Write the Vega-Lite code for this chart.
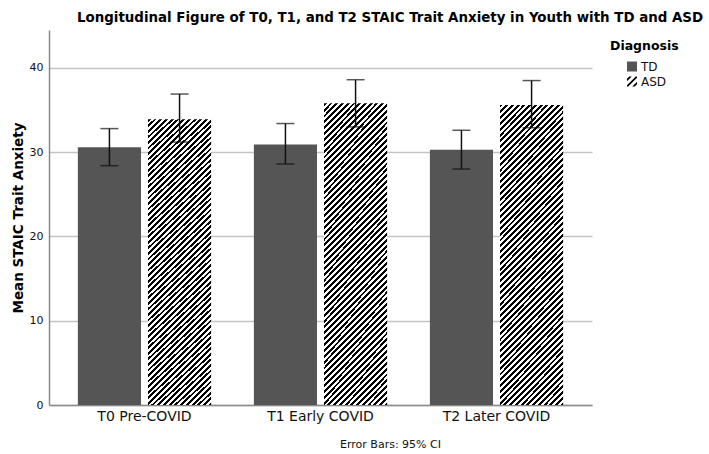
{
  "$schema": "https://vega.github.io/schema/vega-lite/v6.json",
  "width": 543,
  "height": 375,
  "autosize": "none",
  "padding": {"left": 49, "top": 30, "right": 117, "bottom": 49},
  "background": "white",
  "title": {
    "text": "Longitudinal Figure of T0, T1, and T2 STAIC Trait Anxiety in Youth with TD and ASD",
    "anchor": "start", "frame": "group", "dx": 28, "offset": 10, "dy": 15,
    "baseline": "alphabetic",
    "font": "DejaVu Sans", "fontSize": 13.4, "fontWeight": "bold", "color": "#000"
  },
  "config": {
    "view": {"stroke": null},
    "font": "DejaVu Sans",
    "legend": {
      "padding": 0, "titleFontSize": 12.5, "titleFontWeight": "bold", "titleColor": "#000",
      "titlePadding": 8, "labelFontSize": 12, "labelColor": "#111", "labelOffset": 3,
      "symbolSize": 100, "symbolOffset": 16, "symbolStrokeWidth": 0, "symbolOpacity": 1, "rowPadding": 3
    }
  },
  "data": {
    "values": [
      {"time": "T0 Pre-COVID", "Diagnosis": "TD", "mean": 30.6, "lo": 28.4, "hi": 32.8},
      {"time": "T0 Pre-COVID", "Diagnosis": "ASD", "mean": 33.9, "lo": 31.2, "hi": 36.9},
      {"time": "T1 Early COVID", "Diagnosis": "TD", "mean": 30.9, "lo": 28.6, "hi": 33.4},
      {"time": "T1 Early COVID", "Diagnosis": "ASD", "mean": 35.8, "lo": 33.0, "hi": 38.6},
      {"time": "T2 Later COVID", "Diagnosis": "TD", "mean": 30.3, "lo": 28.0, "hi": 32.6},
      {"time": "T2 Later COVID", "Diagnosis": "ASD", "mean": 35.6, "lo": 32.9, "hi": 38.5}
    ]
  },
  "encoding": {
    "x": {
      "field": "time", "type": "nominal",
      "sort": ["T0 Pre-COVID", "T1 Early COVID", "T2 Later COVID"],
      "scale": {"paddingInner": 0.243, "paddingOuter": 0.164},
      "axis": {
        "title": "Error Bars: 95% CI", "titleFontSize": 11, "titleFontWeight": "normal",
        "titleColor": "#111", "titleX": 341, "titleY": 42, "titleBaseline": "alphabetic",
        "labelFontSize": 14, "labelColor": "#111", "labelPadding": 4, "labelAngle": 0,
        "ticks": false, "tickSize": 0, "domainColor": "#8a8a8a", "domainWidth": 1.5, "grid": false
      }
    },
    "xOffset": {
      "field": "Diagnosis", "type": "nominal", "sort": ["TD", "ASD"],
      "scale": {"paddingInner": 0.1, "paddingOuter": 0}
    }
  },
  "layer": [
    {
      "mark": {"type": "point", "filled": true, "size": 30},
      "encoding": {
        "y": {
          "field": "lo", "type": "quantitative",
          "scale": {"domain": [0, 44.5], "nice": false, "zero": true},
          "axis": {
            "title": "Mean STAIC Trait Anxiety", "titleFontSize": 13.5, "titleFontWeight": "bold",
            "titleColor": "#000", "titlePadding": 4,
            "values": [0, 10, 20, 30, 40], "labelFontSize": 11, "labelColor": "#111",
            "labelPadding": 6, "ticks": false, "tickSize": 0,
            "domainColor": "#8a8a8a", "domainWidth": 1.5,
            "grid": true, "gridColor": "#c4c4c4", "gridWidth": 1.5
          }
        },
        "color": {
          "field": "Diagnosis", "type": "nominal",
          "scale": {"domain": ["TD", "ASD"], "range": ["#555555", "#000000"]},
          "legend": {"orient": "none", "legendX": 561, "legendY": 10, "title": "Diagnosis"}
        },
        "shape": {
          "field": "Diagnosis", "type": "nominal",
          "scale": {"domain": ["TD", "ASD"], "range": ["square", "M-1,-0.55L-0.55,-1L-0.05,-1L-1,-0.05Z M-1,0.75L0.75,-1L1,-1L1,-0.75L-0.75,1L-1,1Z M0.05,1L1,0.05L1,0.55L0.55,1Z"]},
          "legend": {"orient": "none", "legendX": 561, "legendY": 10, "title": "Diagnosis"}
        }
      }
    },
    {
      "mark": {"type": "bar", "strokeWidth": 0},
      "encoding": {
        "y": {
          "field": "mean", "type": "quantitative",
          "scale": {"domain": [0, 44.5], "nice": false, "zero": true},
          "axis": {
            "title": "Mean STAIC Trait Anxiety", "titleFontSize": 13.5, "titleFontWeight": "bold",
            "titleColor": "#000", "titlePadding": 4,
            "values": [0, 10, 20, 30, 40], "labelFontSize": 11, "labelColor": "#111",
            "labelPadding": 6, "ticks": false, "tickSize": 0,
            "domainColor": "#8a8a8a", "domainWidth": 1.5,
            "grid": true, "gridColor": "#c4c4c4", "gridWidth": 1.5
          }
        },
        "color": {
          "condition": {
            "test": "datum.Diagnosis === 'ASD'",
            "value": {"gradient": "linear", "x1": 0, "y1": 0, "x2": 0.248, "y2": 1.161, "stops": [
{"offset":0,"color":"#000"},{"offset":0.008,"color":"#000"},{"offset":0.008,"color":"#fff"},{"offset":0.016,"color":"#fff"},
{"offset":0.016,"color":"#000"},{"offset":0.024,"color":"#000"},{"offset":0.024,"color":"#fff"},{"offset":0.032,"color":"#fff"},
{"offset":0.032,"color":"#000"},{"offset":0.04,"color":"#000"},{"offset":0.04,"color":"#fff"},{"offset":0.048,"color":"#fff"},
{"offset":0.048,"color":"#000"},{"offset":0.056,"color":"#000"},{"offset":0.056,"color":"#fff"},{"offset":0.064,"color":"#fff"},
{"offset":0.064,"color":"#000"},{"offset":0.072,"color":"#000"},{"offset":0.072,"color":"#fff"},{"offset":0.08,"color":"#fff"},
{"offset":0.08,"color":"#000"},{"offset":0.088,"color":"#000"},{"offset":0.088,"color":"#fff"},{"offset":0.096,"color":"#fff"},
{"offset":0.096,"color":"#000"},{"offset":0.104,"color":"#000"},{"offset":0.104,"color":"#fff"},{"offset":0.112,"color":"#fff"},
{"offset":0.112,"color":"#000"},{"offset":0.12,"color":"#000"},{"offset":0.12,"color":"#fff"},{"offset":0.128,"color":"#fff"},
{"offset":0.128,"color":"#000"},{"offset":0.136,"color":"#000"},{"offset":0.136,"color":"#fff"},{"offset":0.144,"color":"#fff"},
{"offset":0.144,"color":"#000"},{"offset":0.152,"color":"#000"},{"offset":0.152,"color":"#fff"},{"offset":0.16,"color":"#fff"},
{"offset":0.16,"color":"#000"},{"offset":0.168,"color":"#000"},{"offset":0.168,"color":"#fff"},{"offset":0.176,"color":"#fff"},
{"offset":0.176,"color":"#000"},{"offset":0.184,"color":"#000"},{"offset":0.184,"color":"#fff"},{"offset":0.192,"color":"#fff"},
{"offset":0.192,"color":"#000"},{"offset":0.2,"color":"#000"},{"offset":0.2,"color":"#fff"},{"offset":0.208,"color":"#fff"},
{"offset":0.208,"color":"#000"},{"offset":0.216,"color":"#000"},{"offset":0.216,"color":"#fff"},{"offset":0.224,"color":"#fff"},
{"offset":0.224,"color":"#000"},{"offset":0.232,"color":"#000"},{"offset":0.232,"color":"#fff"},{"offset":0.24,"color":"#fff"},
{"offset":0.24,"color":"#000"},{"offset":0.248,"color":"#000"},{"offset":0.248,"color":"#fff"},{"offset":0.256,"color":"#fff"},
{"offset":0.256,"color":"#000"},{"offset":0.264,"color":"#000"},{"offset":0.264,"color":"#fff"},{"offset":0.272,"color":"#fff"},
{"offset":0.272,"color":"#000"},{"offset":0.28,"color":"#000"},{"offset":0.28,"color":"#fff"},{"offset":0.288,"color":"#fff"},
{"offset":0.288,"color":"#000"},{"offset":0.296,"color":"#000"},{"offset":0.296,"color":"#fff"},{"offset":0.304,"color":"#fff"},
{"offset":0.304,"color":"#000"},{"offset":0.312,"color":"#000"},{"offset":0.312,"color":"#fff"},{"offset":0.32,"color":"#fff"},
{"offset":0.32,"color":"#000"},{"offset":0.328,"color":"#000"},{"offset":0.328,"color":"#fff"},{"offset":0.336,"color":"#fff"},
{"offset":0.336,"color":"#000"},{"offset":0.344,"color":"#000"},{"offset":0.344,"color":"#fff"},{"offset":0.352,"color":"#fff"},
{"offset":0.352,"color":"#000"},{"offset":0.36,"color":"#000"},{"offset":0.36,"color":"#fff"},{"offset":0.368,"color":"#fff"},
{"offset":0.368,"color":"#000"},{"offset":0.376,"color":"#000"},{"offset":0.376,"color":"#fff"},{"offset":0.384,"color":"#fff"},
{"offset":0.384,"color":"#000"},{"offset":0.392,"color":"#000"},{"offset":0.392,"color":"#fff"},{"offset":0.4,"color":"#fff"},
{"offset":0.4,"color":"#000"},{"offset":0.408,"color":"#000"},{"offset":0.408,"color":"#fff"},{"offset":0.416,"color":"#fff"},
{"offset":0.416,"color":"#000"},{"offset":0.424,"color":"#000"},{"offset":0.424,"color":"#fff"},{"offset":0.432,"color":"#fff"},
{"offset":0.432,"color":"#000"},{"offset":0.44,"color":"#000"},{"offset":0.44,"color":"#fff"},{"offset":0.448,"color":"#fff"},
{"offset":0.448,"color":"#000"},{"offset":0.456,"color":"#000"},{"offset":0.456,"color":"#fff"},{"offset":0.464,"color":"#fff"},
{"offset":0.464,"color":"#000"},{"offset":0.472,"color":"#000"},{"offset":0.472,"color":"#fff"},{"offset":0.48,"color":"#fff"},
{"offset":0.48,"color":"#000"},{"offset":0.488,"color":"#000"},{"offset":0.488,"color":"#fff"},{"offset":0.496,"color":"#fff"},
{"offset":0.496,"color":"#000"},{"offset":0.504,"color":"#000"},{"offset":0.504,"color":"#fff"},{"offset":0.512,"color":"#fff"},
{"offset":0.512,"color":"#000"},{"offset":0.52,"color":"#000"},{"offset":0.52,"color":"#fff"},{"offset":0.528,"color":"#fff"},
{"offset":0.528,"color":"#000"},{"offset":0.536,"color":"#000"},{"offset":0.536,"color":"#fff"},{"offset":0.544,"color":"#fff"},
{"offset":0.544,"color":"#000"},{"offset":0.552,"color":"#000"},{"offset":0.552,"color":"#fff"},{"offset":0.56,"color":"#fff"},
{"offset":0.56,"color":"#000"},{"offset":0.568,"color":"#000"},{"offset":0.568,"color":"#fff"},{"offset":0.576,"color":"#fff"},
{"offset":0.576,"color":"#000"},{"offset":0.584,"color":"#000"},{"offset":0.584,"color":"#fff"},{"offset":0.592,"color":"#fff"},
{"offset":0.592,"color":"#000"},{"offset":0.6,"color":"#000"},{"offset":0.6,"color":"#fff"},{"offset":0.608,"color":"#fff"},
{"offset":0.608,"color":"#000"},{"offset":0.616,"color":"#000"},{"offset":0.616,"color":"#fff"},{"offset":0.624,"color":"#fff"},
{"offset":0.624,"color":"#000"},{"offset":0.632,"color":"#000"},{"offset":0.632,"color":"#fff"},{"offset":0.64,"color":"#fff"},
{"offset":0.64,"color":"#000"},{"offset":0.648,"color":"#000"},{"offset":0.648,"color":"#fff"},{"offset":0.656,"color":"#fff"},
{"offset":0.656,"color":"#000"},{"offset":0.664,"color":"#000"},{"offset":0.664,"color":"#fff"},{"offset":0.672,"color":"#fff"},
{"offset":0.672,"color":"#000"},{"offset":0.68,"color":"#000"},{"offset":0.68,"color":"#fff"},{"offset":0.688,"color":"#fff"},
{"offset":0.688,"color":"#000"},{"offset":0.696,"color":"#000"},{"offset":0.696,"color":"#fff"},{"offset":0.704,"color":"#fff"},
{"offset":0.704,"color":"#000"},{"offset":0.712,"color":"#000"},{"offset":0.712,"color":"#fff"},{"offset":0.72,"color":"#fff"},
{"offset":0.72,"color":"#000"},{"offset":0.728,"color":"#000"},{"offset":0.728,"color":"#fff"},{"offset":0.736,"color":"#fff"},
{"offset":0.736,"color":"#000"},{"offset":0.744,"color":"#000"},{"offset":0.744,"color":"#fff"},{"offset":0.752,"color":"#fff"},
{"offset":0.752,"color":"#000"},{"offset":0.76,"color":"#000"},{"offset":0.76,"color":"#fff"},{"offset":0.768,"color":"#fff"},
{"offset":0.768,"color":"#000"},{"offset":0.776,"color":"#000"},{"offset":0.776,"color":"#fff"},{"offset":0.784,"color":"#fff"},
{"offset":0.784,"color":"#000"},{"offset":0.792,"color":"#000"},{"offset":0.792,"color":"#fff"},{"offset":0.8,"color":"#fff"},
{"offset":0.8,"color":"#000"},{"offset":0.808,"color":"#000"},{"offset":0.808,"color":"#fff"},{"offset":0.816,"color":"#fff"},
{"offset":0.816,"color":"#000"},{"offset":0.824,"color":"#000"},{"offset":0.824,"color":"#fff"},{"offset":0.832,"color":"#fff"},
{"offset":0.832,"color":"#000"},{"offset":0.84,"color":"#000"},{"offset":0.84,"color":"#fff"},{"offset":0.848,"color":"#fff"},
{"offset":0.848,"color":"#000"},{"offset":0.856,"color":"#000"},{"offset":0.856,"color":"#fff"},{"offset":0.864,"color":"#fff"},
{"offset":0.864,"color":"#000"},{"offset":0.872,"color":"#000"},{"offset":0.872,"color":"#fff"},{"offset":0.88,"color":"#fff"},
{"offset":0.88,"color":"#000"},{"offset":0.888,"color":"#000"},{"offset":0.888,"color":"#fff"},{"offset":0.896,"color":"#fff"},
{"offset":0.896,"color":"#000"},{"offset":0.904,"color":"#000"},{"offset":0.904,"color":"#fff"},{"offset":0.912,"color":"#fff"},
{"offset":0.912,"color":"#000"},{"offset":0.92,"color":"#000"},{"offset":0.92,"color":"#fff"},{"offset":0.928,"color":"#fff"},
{"offset":0.928,"color":"#000"},{"offset":0.936,"color":"#000"},{"offset":0.936,"color":"#fff"},{"offset":0.944,"color":"#fff"},
{"offset":0.944,"color":"#000"},{"offset":0.952,"color":"#000"},{"offset":0.952,"color":"#fff"},{"offset":0.96,"color":"#fff"},
{"offset":0.96,"color":"#000"},{"offset":0.968,"color":"#000"},{"offset":0.968,"color":"#fff"},{"offset":0.976,"color":"#fff"},
{"offset":0.976,"color":"#000"},{"offset":0.984,"color":"#000"},{"offset":0.984,"color":"#fff"},{"offset":0.992,"color":"#fff"},
{"offset":0.992,"color":"#000"},{"offset":1,"color":"#000"}
            ]}
          },
          "field": "Diagnosis", "type": "nominal",
          "scale": {"domain": ["TD", "ASD"], "range": ["#555555", "#000000"]},
          "legend": {"orient": "none", "legendX": 561, "legendY": 10, "title": "Diagnosis"}
        }
      }
    },
    {
      "mark": {"type": "rule", "color": "#111", "strokeWidth": 1.5},
      "encoding": {
        "y": {"field": "lo", "type": "quantitative"},
        "y2": {"field": "hi"}
      }
    },
    {
      "mark": {"type": "tick", "color": "#111", "size": 18, "thickness": 1.5},
      "encoding": {"y": {"field": "lo", "type": "quantitative"}}
    },
    {
      "mark": {"type": "tick", "color": "#111", "size": 18, "thickness": 1.5},
      "encoding": {"y": {"field": "hi", "type": "quantitative"}}
    }
  ]
}
